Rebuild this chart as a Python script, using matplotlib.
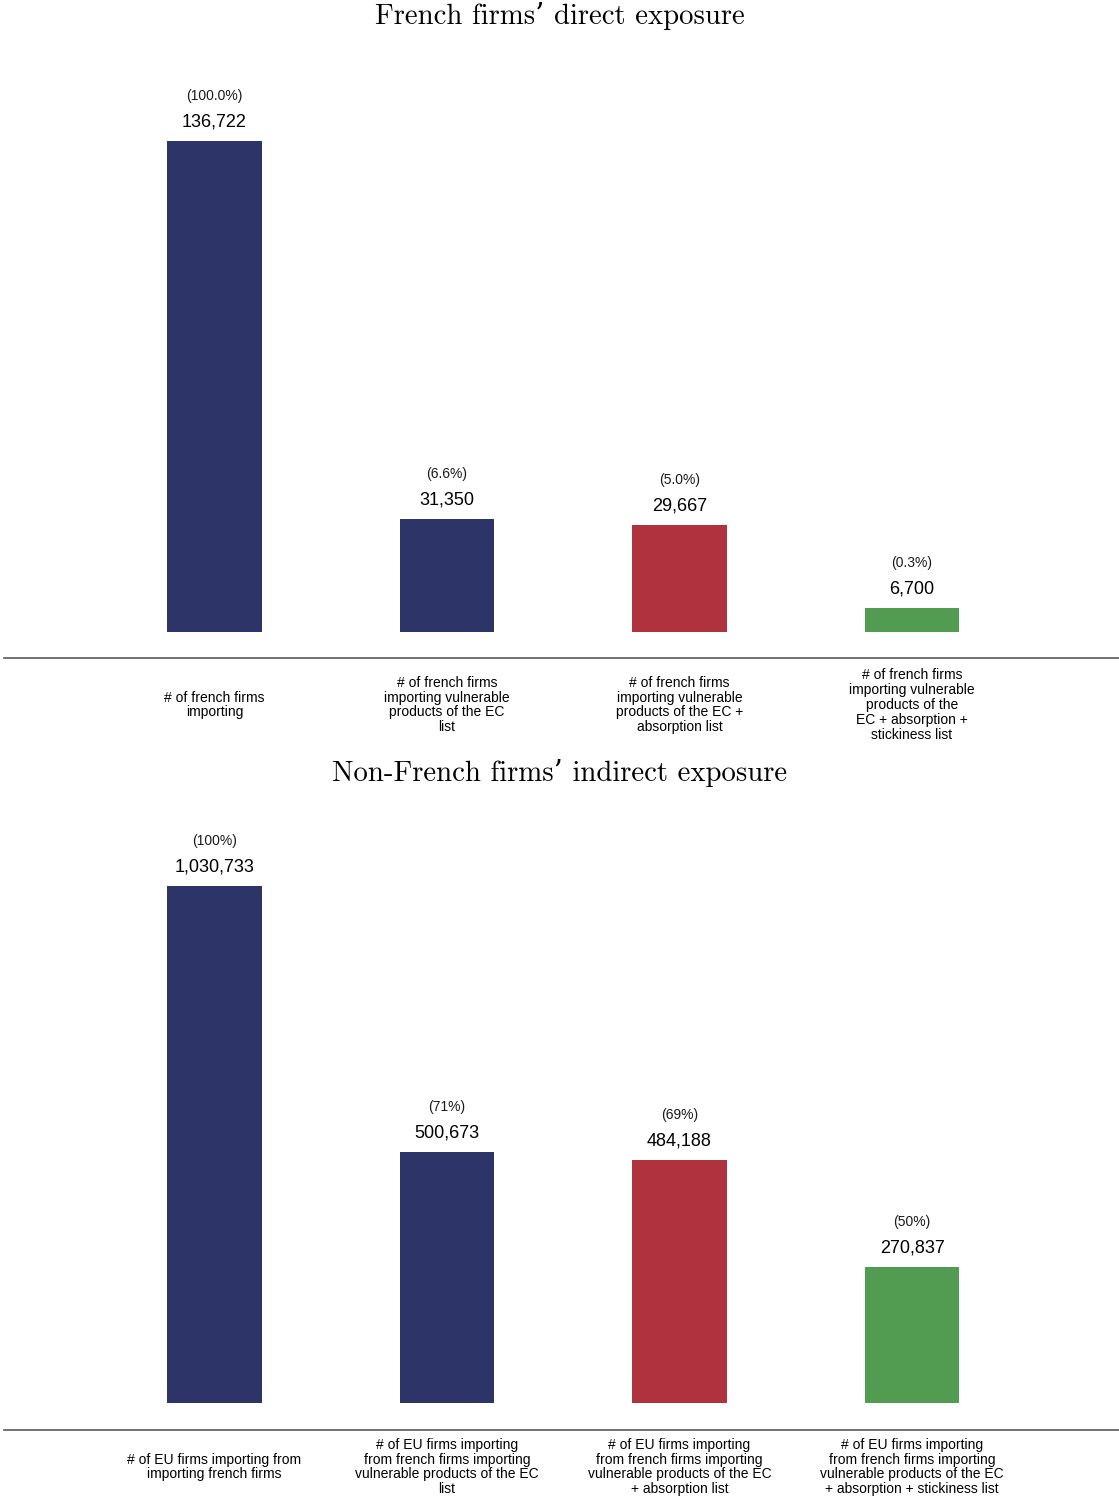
import matplotlib
matplotlib.use("Agg")
import matplotlib.pyplot as plt

# ---- data ----
top_title = "French firms\u2019 direct exposure"
top_categories = [
    "# of french firms\nimporting",
    "# of french firms\nimporting vulnerable\nproducts of the EC\nlist",
    "# of french firms\nimporting vulnerable\nproducts of the EC +\nabsorption list",
    "# of french firms\nimporting vulnerable\nproducts of the\nEC + absorption +\nstickiness list",
]
top_values = [136722, 31350, 29667, 6700]
top_pct_labels = ["(100.0%)", "(6.6%)", "(5.0%)", "(0.3%)"]

bottom_title = "Non-French firms\u2019 indirect exposure"
bottom_categories = [
    "# of EU firms importing from\nimporting french firms",
    "# of EU firms importing\nfrom french firms importing\nvulnerable products of the EC\nlist",
    "# of EU firms importing\nfrom french firms importing\nvulnerable products of the EC\n+ absorption list",
    "# of EU firms importing\nfrom french firms importing\nvulnerable products of the EC\n+ absorption + stickiness list",
]
bottom_values = [1030733, 500673, 484188, 270837]
bottom_pct_labels = ["(100%)", "(71%)", "(69%)", "(50%)"]

bar_colors = ["#2c3468", "#2c3468", "#af323e", "#529c51"]

# ---- figure ----
W, H = 1119, 1496
fig = plt.figure(figsize=(W / 100, H / 100), dpi=100)

sans = ["Liberation Sans", "DejaVu Sans"]
serif = ["cmr10", "DejaVu Serif"]


def px_axes(left, top, right, bottom):
    return fig.add_axes([left / W, 1 - bottom / H, (right - left) / W, (bottom - top) / H])


def draw_panel(ax, cats, vals, pcts, spine_offset_px, label_pad_px):
    x = list(range(len(vals)))
    ax.bar(x, vals, width=0.405, color=bar_colors)
    ax.set_xlim(-0.905, len(vals) - 1 + 0.89)
    ax.set_ylim(0, max(vals))
    for s in ["top", "right", "left"]:
        ax.spines[s].set_visible(False)
    ax.spines["bottom"].set_position(("outward", spine_offset_px * 0.72))
    ax.spines["bottom"].set_color("#5a5a5a")
    ax.spines["bottom"].set_linewidth(1.2)
    ax.set_yticks([])
    ax.set_xticks(x)
    ax.set_xticklabels(cats, fontsize=10, family=sans, va="center", ha="center",
                       linespacing=1.08)
    ax.tick_params(axis="x", length=0, pad=label_pad_px * 0.72)
    for xi, v, p in zip(x, vals, pcts):
        ax.annotate(f"{v:,}", xy=(xi, v), xytext=(0, 19 * 0.72), textcoords="offset points",
                    ha="center", va="center", fontsize=13, family=sans,
                    annotation_clip=False)
        ax.annotate(p, xy=(xi, v), xytext=(0, 45 * 0.72), textcoords="offset points",
                    ha="center", va="center", fontsize=10, family=sans,
                    color="#1a1a1a", annotation_clip=False)


ax1 = px_axes(4, 141, 1119, 632)
draw_panel(ax1, top_categories, top_values, top_pct_labels, 26, 47)

ax2 = px_axes(4, 886, 1119, 1403)
draw_panel(ax2, bottom_categories, bottom_values, bottom_pct_labels, 27, 37)

fig.text(560 / W, 1 - 16 / H, top_title, ha="center", va="center", fontsize=20.7, family=serif)
fig.text(560 / W, 1 - 773 / H, bottom_title, ha="center", va="center", fontsize=20.7, family=serif)

fig.savefig("out.png", dpi=100)
